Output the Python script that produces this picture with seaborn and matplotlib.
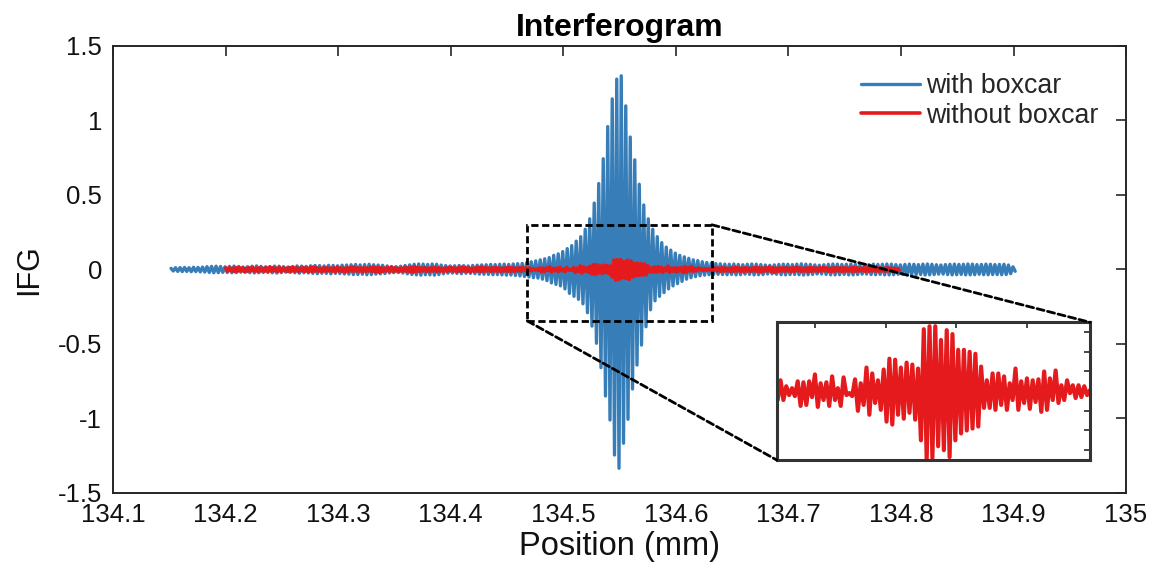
import numpy as np
import pandas as pd
import matplotlib
matplotlib.use("Agg")
import matplotlib.pyplot as plt
import seaborn as sns
from matplotlib.patches import Rectangle, ConnectionPatch

# ---------------- data (extrema, thousandths of IFG units) ----------------
blue_start = 134.1515   # position of first extremum (mm)
blue_half = 0.002       # half fringe period (mm)
blue_pos = [
    8, 12, 13, 14, 12, 15, 14, 16, 19, 21,
    22, 20, 18, 21, 23, 20, 17, 19, 22, 24,
    21, 18, 20, 23, 22, 19, 17, 20, 24, 23,
    21, 25, 27, 26, 24, 28, 27, 25, 29, 30,
    32, 34, 31, 33, 35, 32, 30, 28, 24, 20,
    19, 22, 27, 31, 35, 37, 36, 34, 37, 35,
    30, 26, 24, 25, 27, 26, 24, 27, 29, 31,
    32, 34, 33, 35, 36, 34, 37, 39, 41, 46,
    52, 58, 65, 72, 80, 95, 105, 120, 140, 160,
    190, 220, 270, 340, 446, 577, 743, 959, 1145, 1278,
    1300, 1098, 889, 736, 572, 433, 340,
    270, 220, 180, 150, 130, 110, 95, 85, 75, 65, 60, 52, 47, 43,
    40, 38, 36, 35, 37, 34, 32, 35, 37, 36,
    33, 30, 28, 31, 34, 36, 35, 33, 36, 38,
    36, 34, 31, 29, 32, 35, 37, 36, 34, 35,
    37, 35, 32, 30, 33, 36, 34, 35, 37, 36,
    33, 31, 34, 36, 35, 33, 36, 37, 35, 32,
    30, 33, 35, 36, 34, 35, 37, 36, 33, 34,
    36, 35, 33, 34, 35, 30, 18,
]
blue_neg = [
    -10, -13, -14, -13, -15, -14, -16, -17, -20, -22,
    -21, -19, -20, -22, -21, -18, -19, -21, -23, -22,
    -20, -19, -22, -24, -21, -18, -19, -22, -25, -22,
    -23, -26, -28, -25, -26, -29, -26, -27, -30, -31,
    -34, -33, -32, -35, -34, -31, -29, -27, -23, -21,
    -20, -24, -29, -33, -36, -38, -35, -36, -38, -34,
    -29, -25, -24, -26, -28, -25, -26, -28, -31, -32,
    -33, -35, -34, -36, -38, -37, -40, -43, -47, -50,
    -55, -58, -65, -75, -90, -100, -110, -130, -160, -180,
    -200, -230, -290, -380, -495, -659, -849, -1010, -1245, -1334,
    -1166, -1005, -802, -641, -507, -384, -270,
    -210, -180, -155, -130, -110, -95, -80, -65, -55, -48, -42, -38, -35, -33,
    -32, -34, -35, -33, -36, -35, -31, -33, -36, -35,
    -34, -30, -29, -32, -35, -36, -34, -33, -35, -37,
    -35, -33, -30, -30, -33, -36, -36, -35, -33, -36,
    -36, -34, -31, -31, -34, -35, -33, -36, -36, -35,
    -32, -32, -35, -35, -34, -34, -37, -36, -34, -31,
    -31, -34, -36, -35, -33, -36, -36, -35, -32, -35,
    -35, -34, -34, -35, -34, -28, -12,
]

red_start = 134.2
red_half = 0.0015
red_pos = [
    10, 13, 9, 12, 15, 11, 8, 12, 14, 10,
    12, 9, 13, 16, 12, 10, 14, 11, 9, 13,
    15, 12, 10, 13, 11, 14, 17, 12, 9, 11,
    13, 10, 12, 15, 11, 9, 12, 14, 16, 12,
    10, 13, 11, 15, 18, 14, 12, 10, 13, 16,
    12, 9, 11, 14, 12, 16, 19, 15, 11, 13,
    10, 12, 15, 13, 9, 11, 14, 12, 10, 13,
    16, 13, 11, 9, 12, 15, 17, 13, 10, 12,
    14, 11, 9, 12, 15, 13, 10, 12, 14, 11,
    # zoomed region
    11, 5, 3, 10, 9, 10, 17, 8, 9, 15,
    3, 14, -2, 12, 8, 24, 18, 11, 22, 33,
    32, 24, 29, 27, 23, 63, 66, 66, 52, 62,
    58, 42, 42, 40, 38, 25, 11, 18, 18, 15,
    8, 23, 10, 13, 11, 12, 20, 13, 21, 6,
    11, 6, 6, 5, 1,
    # right wing
    12, 9, 14, 11, 8, 13, 16, 12, 10, 13,
    9, 11, 15, 12, 10, 14, 17, 13, 9, 12,
    11, 14, 10, 13, 16, 12, 9, 11, 14, 12,
    10, 13, 15, 11, 9, 12, 14, 11, 13, 10,
    12, 15, 12, 9, 11, 13, 10, 12, 14, 11,
    9, 12, 10, 8, 6,
]
red_neg = [
    -11, -9, -13, -12, -10, -14, -12, -9, -11, -13,
    -10, -12, -15, -11, -9, -13, -12, -10, -14, -12,
    -11, -13, -9, -12, -16, -13, -10, -12, -14, -11,
    -9, -12, -14, -10, -13, -15, -11, -12, -10, -13,
    -15, -12, -10, -14, -17, -19, -13, -11, -12, -14,
    -11, -13, -10, -12, -15, -18, -14, -12, -10, -13,
    -12, -10, -14, -11, -13, -12, -9, -11, -14, -12,
    -10, -13, -15, -12, -11, -14, -12, -10, -13, -11,
    -12, -14, -10, -11, -13, -12, -9, -11, -6, -9,
    # zoomed region
    -9, -4, -5, -15, -14, -6, -16, -9, -15, -9,
    -15, -4, -5, -20, -14, -24, -12, -19, -31, -34,
    -24, -28, -22, -29, -50, -70, -68, -56, -60, -67,
    -50, -43, -40, -38, -36, -17, -17, -19, -14, -19,
    -9, -19, -12, -18, -11, -21, -19, -9, -12, -9,
    -2, -7, -6, -4, -4,
    # right wing
    -10, -13, -11, -9, -14, -12, -10, -13, -15, -11,
    -12, -10, -13, -16, -12, -10, -14, -19, -13, -11,
    -12, -10, -14, -12, -9, -13, -11, -15, -12, -10,
    -13, -11, -9, -12, -14, -11, -10, -13, -12, -10,
    -14, -12, -11, -9, -13, -12, -10, -11, -13, -10,
    -12, -9, -11, -8, -5,
]

zoom_x = [134.468, 134.632]
zoom_y = [-0.345, 0.30]
inset_ylim = [-0.07, 0.07]

xticks = [134.1, 134.2, 134.3, 134.4, 134.5, 134.6, 134.7, 134.8, 134.9, 135.0]
xtick_labels = ["134.1", "134.2", "134.3", "134.4", "134.5", "134.6", "134.7", "134.8", "134.9", "135"]
yticks = [-1.5, -1.0, -0.5, 0.0, 0.5, 1.0, 1.5]
ytick_labels = ["-1.5", "-1", "-0.5", "0", "0.5", "1", "1.5"]
series_names = ["with boxcar", "without boxcar"]


def build(start, half, pos, neg):
    vals = np.empty(2 * len(pos))
    vals[0::2] = np.asarray(pos) / 1000.0
    vals[1::2] = np.asarray(neg) / 1000.0
    x = start + half * np.arange(len(vals))
    return x, vals


bx, by = build(blue_start, blue_half, blue_pos, blue_neg)
rx, ry = build(red_start, red_half, red_pos, red_neg)
df_blue = pd.DataFrame({"Position": bx, "IFG": by})
df_red = pd.DataFrame({"Position": rx, "IFG": ry})

# ---------------- style ----------------
sns.set_theme(style="white")
plt.rcParams["font.family"] = ["Liberation Sans", "DejaVu Sans"]
plt.rcParams["axes.edgecolor"] = "#262626"
plt.rcParams["xtick.direction"] = "in"
plt.rcParams["ytick.direction"] = "in"

BLUE = "#377eb8"
RED = "#e41a1c"
DARK = "#262626"
TXT = "#111111"

fig = plt.figure(figsize=(11.56, 5.8), dpi=100)
ax = fig.add_axes([0.0978, 0.15, 0.8763, 0.7707])

sns.lineplot(data=df_blue, x="Position", y="IFG", ax=ax, color=BLUE, lw=2.4,
             estimator=None, sort=False, label=series_names[0])
sns.lineplot(data=df_red, x="Position", y="IFG", ax=ax, color=RED, lw=2.6,
             estimator=None, sort=False, label=series_names[1])

ax.set_xlim(134.1, 135.0)
ax.set_ylim(-1.5, 1.5)
ax.set_xticks(xticks)
ax.set_xticklabels(xtick_labels)
ax.set_yticks(yticks)
ax.set_yticklabels(ytick_labels)
ax.tick_params(axis="both", which="both", direction="in", length=7, width=1.2,
               color=DARK, labelsize=18.5, labelcolor=TXT,
               top=True, right=True)
ax.tick_params(axis="x", pad=7)
ax.tick_params(axis="y", pad=8)
for s in ax.spines.values():
    s.set_linewidth(1.4)
    s.set_color(DARK)
ax.set_xlabel("Position (mm)", fontsize=23.5, color=TXT, labelpad=3)
ax.set_ylabel("IFG", fontsize=22, color=TXT, labelpad=10)
ax.set_title("Interferogram", fontsize=23, fontweight="bold", color="black", pad=7)

leg = ax.legend(loc="upper right", frameon=False, fontsize=19.3,
                handlelength=2.2, handletextpad=0.2, labelspacing=0.13,
                borderaxespad=0.0, bbox_to_anchor=(0.983, 0.963))

# dashed zoom rectangle
dash = (0, (2.6, 1.3))
rect = Rectangle((zoom_x[0], zoom_y[0]), zoom_x[1] - zoom_x[0], zoom_y[1] - zoom_y[0],
                 fill=False, edgecolor="black", lw=2.0, linestyle=dash, zorder=5)
ax.add_patch(rect)

# inset
axin = fig.add_axes([0.6719, 0.2069, 0.2710, 0.2374])
axin.set_facecolor("white")
sns.lineplot(data=df_red, x="Position", y="IFG", ax=axin, color=RED, lw=3.0,
             estimator=None, sort=False, legend=False)
axin.set_xlim(zoom_x)
axin.set_ylim(inset_ylim)
w = zoom_x[1] - zoom_x[0]
axin.set_xticks(np.linspace(zoom_x[0] + 0.1223 * w, zoom_x[0] + 0.7989 * w, 4))
axin.set_yticks([-0.06, -0.04, -0.02, 0.0, 0.02, 0.04, 0.06])
axin.set_xticklabels([])
axin.set_yticklabels([])
axin.set_xlabel("")
axin.set_ylabel("")
axin.tick_params(axis="both", direction="in", length=4, width=1.2, color=DARK,
                 top=True, right=True)
for s in axin.spines.values():
    s.set_linewidth(2.2)
    s.set_color("#333333")

# connector lines
for (xa, ya), (xb, yb) in [((zoom_x[1], zoom_y[1]), (1, 1)), ((zoom_x[0], zoom_y[0]), (0, 0))]:
    con = ConnectionPatch(xyA=(xa, ya), coordsA=ax.transData,
                          xyB=(xb, yb), coordsB=axin.transAxes,
                          color="black", lw=2.0, linestyle=dash, zorder=6)
    fig.add_artist(con)

fig.savefig("out.png", dpi=100)
